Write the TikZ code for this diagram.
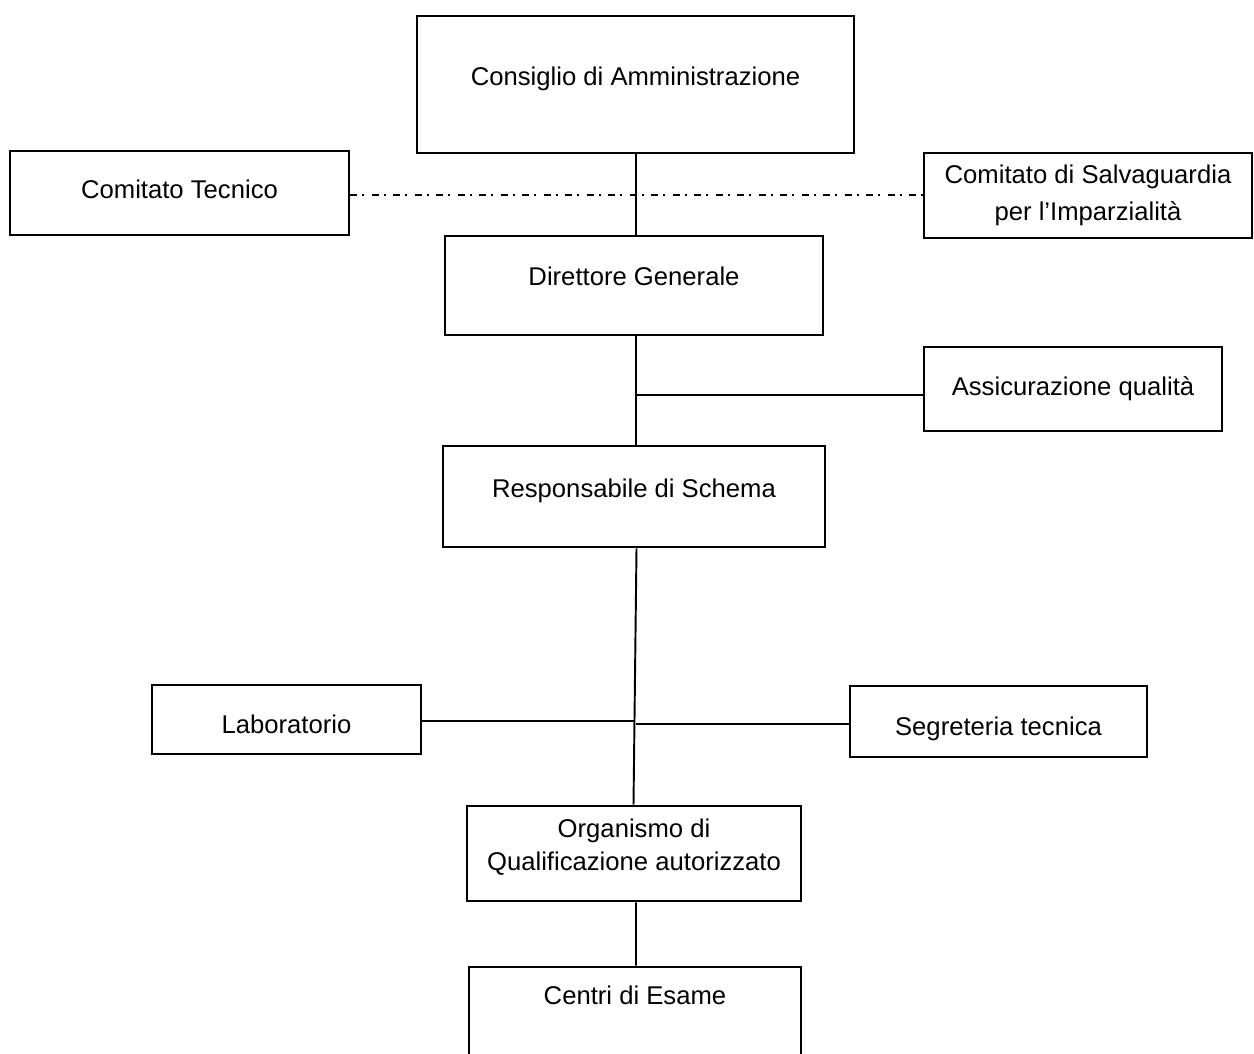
\documentclass[tikz,border=0pt]{standalone}
\usepackage{fontspec}
\setmainfont{Liberation Sans}
\usepackage{tikz}
\usetikzlibrary{positioning,calc}
\tikzstyle{box} = [rectangle, draw=black, line width=1.6pt, text centered, align=center, inner sep=0pt, font=\fontsize{14.6}{20}\selectfont]
\tikzstyle{link} = [line width=1.1pt]
\tikzstyle{dashdot} = [line width=1.1pt, dash pattern=on 0.14cm off 0.1cm on 0.04cm off 0.15cm]
\tikzset{lifted/.style={text height=10.5pt, text depth=#1}}
\tikzset{lowered/.style={text height=#1, text depth=3pt}}

\begin{document}
\begin{tikzpicture}
	\useasboundingbox (0,0) rectangle (25.08,-21.06);
	\node (Consiglio) [box, minimum width=8.74cm, minimum height=2.74cm, lifted=9.8pt] at (12.71,-1.69) {Consiglio di Amministrazione};
	\node (Tecnico) [box, minimum width=6.78cm, minimum height=1.68cm, lifted=4pt] at (3.59,-3.86) {Comitato Tecnico};
	\node (Salvaguardia) [box, minimum width=6.56cm, minimum height=1.70cm, font=\fontsize{14.6}{21}\selectfont] at (21.76,-3.91) {Comitato di Salvaguardia\\per l'Imparzialità};
	\node (Direttore) [box, minimum width=7.56cm, minimum height=1.98cm, lifted=10.7pt] at (12.68,-5.71) {Direttore Generale};
	\node (Qualita) [box, minimum width=5.96cm, minimum height=1.68cm, lifted=3pt] at (21.46,-7.78) {Assicurazione qualità};
	\node (Responsabile) [box, minimum width=7.64cm, minimum height=2.02cm, lifted=9.7pt] at (12.68,-9.93) {Responsabile di Schema};
	\node (Laboratorio) [box, minimum width=5.38cm, minimum height=1.38cm, lowered=18.4pt] at (5.73,-14.39) {Laboratorio};
	\node (Segreteria) [box, minimum width=5.94cm, minimum height=1.42cm, lowered=18.4pt] at (19.97,-14.43) {Segreteria tecnica};
	\node (Organismo) [box, minimum width=6.68cm, minimum height=1.90cm, font=\fontsize{14.6}{19}\selectfont, text depth=10pt] at (12.68,-17.07) {Organismo di\\Qualificazione autorizzato};
	\node (Centri) [box, minimum width=6.64cm, minimum height=2.16cm, lifted=29pt] at (12.70,-20.42) {Centri di Esame};

	% collegamenti
	\coordinate (topjoin) at (12.72,-3.06);
	\coordinate (qjoin) at (12.72,-7.90);
	\coordinate (ljoin) at (12.68,-14.42);
	\coordinate (rjoin) at (12.72,-14.48);
	\draw[link] (topjoin) -- (topjoin |- Direttore.north);
	\draw[dashdot] (Tecnico.east |- 0,-3.90) -- (Salvaguardia.west |- 0,-3.90);
	\draw[link] (qjoin |- Direttore.south) -- (qjoin |- Responsabile.north);
	\draw[link] (qjoin) -- (qjoin -| Qualita.west);
	\draw[link] ($(Responsabile.south)+(0.05,0)$) -- ($(Organismo.north)+(-0.01,0)$);
	\draw[link] (Laboratorio.east |- ljoin) -- (ljoin);
	\draw[link] (rjoin) -- (rjoin -| Segreteria.west);
	\draw[link] ($(Organismo.south)+(0.04,0)$) -- ($(Centri.north)+(0.02,0)$);
\end{tikzpicture}
\end{document}
